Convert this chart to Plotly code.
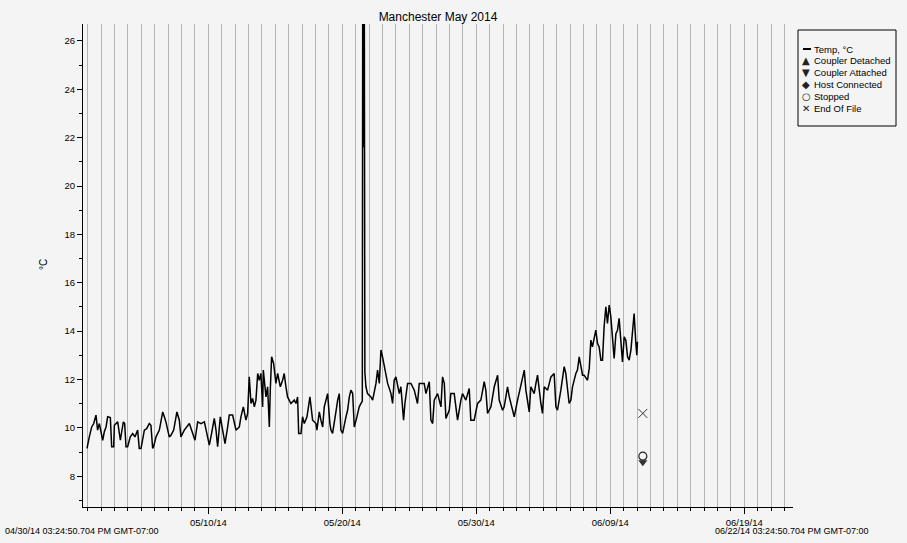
import pandas as pd
import plotly.graph_objects as go

# logger launch / axis span
start_time = pd.Timestamp("2014-04-30 15:24:50.704")
end_time = pd.Timestamp("2014-06-22 15:24:50.704")

# readings: days since launch, temperature in degC
day_offset = [
    0.30, 0.40, 0.47, 0.65, 0.80, 0.97, 1.09, 1.22, 1.34, 1.47, 1.59, 1.72, 1.84, 2.04,
    2.14, 2.29, 2.34, 2.46, 2.59, 2.79, 2.89, 3.01, 3.11, 3.21, 3.33, 3.53, 3.71, 3.88,
    4.08, 4.20, 4.33, 4.58, 4.75, 4.95, 5.07, 5.20, 5.27, 5.45, 5.70, 5.95, 6.07, 6.19,
    6.44, 6.57, 6.77, 7.01, 7.19, 7.31, 7.56, 7.76, 7.94, 8.19, 8.36, 8.56, 8.81, 9.06,
    9.18, 9.43, 9.60, 9.80, 9.93, 10.05, 10.25, 10.42, 10.60, 10.80, 10.92, 11.17, 11.42,
    11.67, 11.79, 11.97, 12.16, 12.29,
    12.41, 12.54, 12.66, 12.79, 12.91, 13.04, 13.16, 13.28, 13.41, 13.46, 13.66, 13.78,
    13.91, 13.98, 14.08, 14.23, 14.40, 14.53, 14.73, 14.90, 15.02, 15.15, 15.27, 15.52,
    15.77, 15.90, 16.02, 16.10, 16.27, 16.39, 16.52, 16.72, 16.94, 17.14, 17.39, 17.46,
    17.64, 17.76, 17.89, 18.01, 18.26, 18.43, 18.51, 18.63, 18.76, 18.88, 19.01, 19.13,
    19.25, 19.38, 19.63, 19.75, 19.88, 20.00, 20.13, 20.25, 20.45, 20.62, 20.75,
    20.85, 20.88, 20.90, 20.92, 20.94, 20.96, 20.98, 21.00, 21.04,
    21.12, 21.24, 21.49, 21.62, 21.87, 21.99, 22.12, 22.24, 22.36, 22.49, 22.74, 22.99,
    23.11, 23.23, 23.36, 23.61, 23.73, 23.93, 24.03, 24.23,
    24.48, 24.73, 24.97, 25.10, 25.27, 25.47, 25.60, 25.85, 25.97, 26.10, 26.22, 26.47,
    26.72, 26.84, 26.97, 27.09, 27.34, 27.46, 27.71, 27.84, 27.96, 28.21, 28.33, 28.58,
    28.83, 28.95, 29.20, 29.45, 29.70, 29.95, 30.07, 30.20, 30.45, 30.70, 30.95, 31.07,
    31.32, 31.44, 31.69, 31.82, 32.06, 32.19, 32.44, 32.69, 32.94, 33.06, 33.31, 33.43,
    33.68, 33.81, 33.93, 34.18, 34.30, 34.43, 34.68, 34.93, 35.17, 35.30, 35.42, 35.67,
    35.92, 36.04, 36.17, 36.29, 36.42, 36.54, 36.79, 36.91, 37.04,
    37.21, 37.29, 37.41, 37.54, 37.66, 37.79, 37.91, 38.03, 38.16, 38.28, 38.41, 38.53,
    38.66, 38.78, 38.90, 39.03, 39.15, 39.28, 39.40, 39.53, 39.65, 39.78, 39.90, 40.02,
    40.15, 40.27, 40.40, 40.52, 40.65, 40.77, 40.90, 41.02, 41.14, 41.27, 41.34, 41.39,
]
temp_c = [
    9.15, 9.49, 9.63, 10.04, 10.18, 10.53, 9.91, 10.18, 9.77, 9.49, 9.84, 10.04, 10.46, 10.43,
    9.22, 9.22, 10.11, 10.18, 10.25, 9.49, 9.91, 10.25, 10.18, 9.22, 9.22, 9.63, 9.77, 9.63,
    9.91, 9.15, 9.15, 9.91, 9.97, 10.18, 10.11, 9.15, 9.22, 9.63, 9.91, 10.66, 10.46, 10.25,
    9.63, 9.70, 9.91, 10.66, 10.32, 9.63, 9.91, 10.04, 10.18, 9.77, 9.49, 10.25, 10.18, 10.25,
    9.91, 9.29, 9.77, 10.39, 9.91, 9.22, 10.46, 9.91, 9.35, 10.04, 10.53, 10.53, 9.91,
    10.04, 10.46, 10.87, 10.32, 10.59,
    12.11, 11.01, 11.22, 10.87, 11.15, 12.25, 11.97, 12.25, 10.87, 12.39, 11.28, 11.70,
    10.04, 11.56, 12.94, 12.66, 11.84, 12.25, 11.70, 11.97, 12.25, 11.70, 11.28, 11.01,
    11.15, 11.01, 11.28, 9.77, 9.77, 10.46, 10.18, 10.46, 11.28, 10.32, 10.18, 9.91,
    10.66, 10.32, 10.04, 10.87, 11.42, 10.18, 9.91, 9.77, 10.18, 10.66, 11.15, 11.42,
    9.91, 9.77, 10.46, 10.73, 11.28, 11.56, 11.42, 10.04, 10.46, 10.87, 11.01,
    11.10, 28.0, 22.0, 25.5, 21.6, 24.5, 21.8, 27.5, 12.3,
    11.70, 11.42, 11.28, 11.15, 11.84, 12.39, 11.84, 13.22, 12.94, 12.53, 11.84, 11.42,
    11.01, 11.97, 12.11, 11.42, 11.70, 10.32, 11.01, 11.84,
    11.84, 11.56, 11.01, 11.84, 11.84, 11.84, 11.42, 11.91, 10.32, 10.18, 11.15, 11.42,
    10.87, 12.11, 11.84, 10.39, 10.73, 11.42, 11.42, 10.87, 10.32, 11.15, 11.42, 11.15,
    11.63, 10.32, 10.32, 11.01, 11.15, 11.91, 11.56, 10.60, 10.87, 11.70, 12.18, 11.15,
    10.73, 10.87, 11.70, 11.28, 10.73, 10.46, 11.15, 11.84, 12.39, 11.56, 10.66, 11.70,
    11.42, 11.84, 12.18, 11.01, 10.60, 11.70, 11.56, 12.11, 12.25, 10.87, 10.73, 11.56,
    12.53, 12.25, 11.70, 11.01, 11.15, 11.70, 12.25, 12.39, 12.94,
    12.39, 12.18, 12.18, 12.04, 11.97, 12.46, 13.63, 13.35, 13.77, 14.04, 13.49, 13.35,
    12.80, 12.80, 14.18, 15.01, 14.32, 15.08, 14.60, 13.63, 12.87, 13.90, 14.04, 14.53,
    13.63, 12.73, 13.77, 13.63, 12.94, 12.80, 13.22, 13.90, 14.73, 13.49, 13.01, 13.56,
]

# logger events
event_day = 41.79
eof_temp = 10.6
stopped_temp = 8.83
attached_temp = 8.58

legend_labels = ["Temp, °C", "Coupler Detached", "Coupler Attached",
                 "Host Connected", "Stopped", "End Of File"]
legend_glyphs = ["", "▲", "▼", "◆", "○", "✕"]

BG = "#f4f4f4"
GRID = "#b4b4b4"
FONT = "Liberation Sans, Arial, sans-serif"

times = start_time + pd.to_timedelta(day_offset, unit="D")
event_time = start_time + pd.to_timedelta(event_day, unit="D")

fig = go.Figure()
fig.add_trace(go.Scatter(x=times, y=temp_c, mode="lines",
                         line=dict(color="black", width=1.5), name="Temp, °C"))
fig.add_trace(go.Scatter(x=[event_time], y=[eof_temp], mode="markers",
                         marker=dict(symbol="x-thin-open", size=9, color="#333333",
                                     line=dict(color="#333333", width=1))))
fig.add_trace(go.Scatter(x=[event_time], y=[attached_temp], mode="markers",
                         marker=dict(symbol="triangle-down", size=8, color="#333333")))
fig.add_trace(go.Scatter(x=[event_time], y=[stopped_temp], mode="markers",
                         marker=dict(symbol="circle-open", size=8, color="#222222",
                                     line=dict(color="#222222", width=1.2))))

# plot-area geometry in pixels, used for placing the legend box and corner labels
L, R, T, B = 83, 793, 24, 507
W, H = R - L, B - T


def px(x):
    return (x - L) / W


def py(y):
    return (B - y) / H


shapes = [dict(type="rect", xref="paper", yref="paper",
               x0=px(798), x1=px(896), y0=py(126), y1=py(30),
               line=dict(color="black", width=1), fillcolor=BG)]
annotations = []
for i, (lab, g) in enumerate(zip(legend_labels, legend_glyphs)):
    yy = 49 + i * 11.8
    if i == 0:
        shapes.append(dict(type="line", xref="paper", yref="paper",
                           x0=px(803), x1=px(811), y0=py(yy), y1=py(yy),
                           line=dict(color="black", width=2)))
    else:
        annotations.append(dict(text=g, xref="paper", yref="paper", x=px(806), y=py(yy),
                                xanchor="center", yanchor="middle", showarrow=False,
                                font=dict(family="DejaVu Sans", size=10, color="#222222")))
    annotations.append(dict(text=lab, xref="paper", yref="paper", x=px(811.5), y=py(yy),
                            xanchor="left", yanchor="middle", showarrow=False,
                            font=dict(family=FONT, size=9.5, color="black")))

annotations += [
    dict(text="04/30/14 03:24:50.704 PM GMT-07:00", xref="paper", yref="paper",
         x=px(3), y=py(531), xanchor="left", yanchor="middle", showarrow=False,
         font=dict(family=FONT, size=9, color="black")),
    dict(text="06/22/14 03:24:50.704 PM GMT-07:00", xref="paper", yref="paper",
         x=px(871), y=py(531), xanchor="right", yanchor="middle", showarrow=False,
         font=dict(family=FONT, size=9, color="black")),
    dict(text="°C", xref="paper", yref="paper", x=px(43), y=py(265),
         xanchor="center", yanchor="middle", textangle=-90, showarrow=False,
         font=dict(family=FONT, size=10, color="black")),
]

fig.update_layout(
    width=907, height=543,
    margin=dict(l=L, r=907 - R, t=T, b=543 - B),
    paper_bgcolor=BG, plot_bgcolor=BG,
    showlegend=False,
    font=dict(family=FONT, size=10, color="black"),
    title=dict(text="Manchester May 2014", x=0.5, xref="paper",
               y=1 - 17 / 543, yanchor="middle",
               font=dict(family=FONT, size=12, color="black")),
    shapes=shapes,
    annotations=annotations,
)
fig.update_xaxes(
    type="date", range=[start_time, end_time],
    tick0="2014-05-10", dtick=10 * 86400000, tickformat="%m/%d/%y",
    ticks="outside", ticklen=6, tickcolor="black", tickwidth=1,
    tickfont=dict(size=9.5),
    showgrid=True, gridcolor=GRID, gridwidth=1,
    showline=True, linecolor="black", linewidth=1.2, zeroline=False,
    minor=dict(tick0="2014-05-01", dtick=86400000, ticks="outside", ticklen=3,
               tickcolor="black", showgrid=True, gridcolor=GRID, gridwidth=1),
)
fig.update_yaxes(
    range=[6.73, 26.70], tick0=0, dtick=2,
    ticks="outside", ticklen=5, tickcolor="black",
    tickfont=dict(size=9.5),
    showgrid=False, zeroline=False,
    showline=True, linecolor="black", linewidth=1.2,
    minor=dict(dtick=1, ticks="outside", ticklen=3, tickcolor="black"),
)

# drop the default page margin so the figure sits at the window's top-left corner
fig.write_html("out.html", config={"displayModeBar": False},
               post_script="document.body.style.margin='0';")
